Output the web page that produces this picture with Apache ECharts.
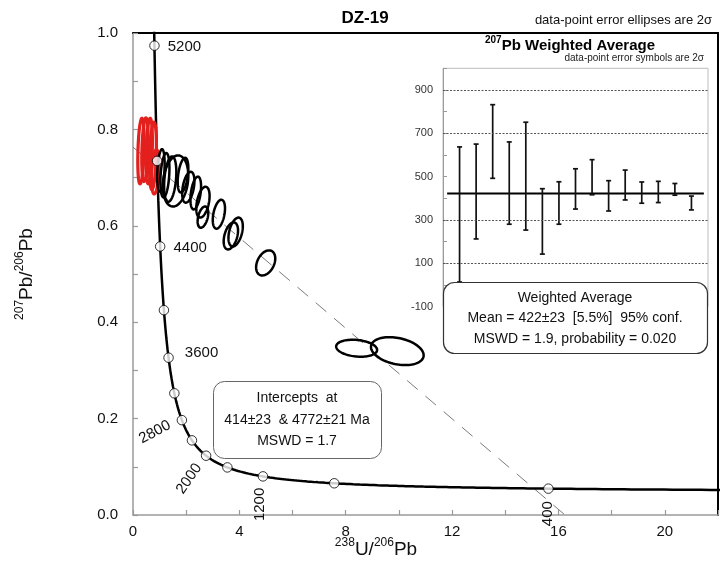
<!DOCTYPE html>
<html>
<head>
<meta charset="utf-8">
<script src="https://cdn.jsdelivr.net/npm/echarts@6/dist/echarts.min.js"></script>
<style>
  html, body { margin: 0; padding: 0; background: #fff; }
  #chart { width: 727px; height: 567px; }
</style>
</head>
<body>
<div id="chart"></div>
<script>
// Tera-Wasserburg concordia, sample DZ-19

// Decay constants (1/yr) and present-day 238U/235U
const LAMBDA_238 = 1.55125e-10;
const LAMBDA_235 = 9.8485e-10;
const U_RATIO = 137.88;

// Concordia age marks (Ma) and which of them carry a label
const markerAges = [400, 800, 1200, 1600, 2000, 2400, 2800, 3200, 3600, 4000, 4400, 4800, 5200];
const labelledAges = [400, 1200, 2000, 2800, 3600, 4400, 5200];

// Discordia intercept ages (Ma)
const interceptAges = [414, 4772];

// Error ellipses: [238U/206Pb, 207Pb/206Pb, half-width x, half-height y, rho]
const redEllipses = [
  [0.30, 0.755, 0.12, 0.068, 0.3],
  [0.45, 0.758, 0.12, 0.066, 0.3],
  [0.61, 0.755, 0.12, 0.068, 0.3],
  [0.75, 0.745, 0.13, 0.070, 0.3],
  [0.84, 0.712, 0.14, 0.046, 0.3]
];
const blackEllipses = [
  [1.05, 0.715, 0.14, 0.044, 0.3],
  [1.20, 0.705, 0.17, 0.046, 0.3],
  [1.40, 0.697, 0.23, 0.047, 0.3],
  [1.60, 0.693, 0.48, 0.053, 0.2],
  [1.88, 0.705, 0.20, 0.036, 0.4],
  [2.08, 0.680, 0.23, 0.032, 0.4],
  [2.36, 0.668, 0.20, 0.034, 0.4],
  [2.63, 0.649, 0.25, 0.032, 0.4],
  [2.63, 0.618, 0.20, 0.022, 0.4],
  [3.23, 0.624, 0.23, 0.030, 0.4],
  [3.68, 0.579, 0.27, 0.028, 0.4],
  [3.86, 0.587, 0.27, 0.030, 0.4],
  [4.99, 0.523, 0.36, 0.026, 0.35],
  [8.41, 0.346, 0.77, 0.0176, -0.2],
  [9.94, 0.340, 0.99, 0.029, -0.3]
];

// Main axes tick values
const xTicks = [0, 4, 8, 12, 16, 20];
const yTicks = [0.0, 0.2, 0.4, 0.6, 0.8, 1.0];

// 207Pb weighted-average inset: spot ages (Ma) and 2-sigma errors
const wmSpot = [1, 2, 3, 4, 5, 6, 7, 8, 9, 10, 11, 12, 13, 14, 15];
const wmAge = [325, 431, 662, 470, 502, 293, 378, 443, 497, 411, 461, 426, 429, 441, 378];
const wmErr = [312, 219, 170, 190, 249, 151, 98, 93, 81, 70, 69, 49, 49, 27, 32];
const wmMean = 422;
const insetTicks = [-100, 100, 300, 500, 700, 900];
const insetGrid = [900, 700, 300, 100];

// Concordia coordinates for an age in Ma
function concordia(ageMa) {
  const t = ageMa * 1e6;
  const e8 = Math.exp(LAMBDA_238 * t) - 1;
  const e5 = Math.exp(LAMBDA_235 * t) - 1;
  return [1 / e8, e5 / e8 / U_RATIO];
}

const curve = [];
for (let a = 260; a <= 5600; a += 5) curve.push(concordia(a));

const markers = markerAges.map(concordia);

// Discordia through both intercepts, extended to the axes
const p1 = concordia(interceptAges[0]);
const p2 = concordia(interceptAges[1]);
const slope = (p2[1] - p1[1]) / (p2[0] - p1[0]);
const y0 = p1[1] - slope * p1[0];
const discordia = [[0, y0], [-y0 / slope, 0]];

// Label placement (pixel offset from the mark, rotation in degrees)
const agePlacement = {
  5200: { dx: 30, dy: 1, rot: 0 },
  4400: { dx: 30, dy: 1, rot: 0 },
  3600: { dx: 33, dy: -5, rot: 0 },
  2800: { dx: -27, dy: 12, rot: 28 },
  2000: { dx: -17, dy: 23, rot: 55 },
  1200: { dx: -3, dy: 28, rot: 90 },
  400: { dx: -1, dy: 25, rot: 90 }
};

const FONT = '"Liberation Sans", Arial, sans-serif';

function ellipseRenderer(color, width) {
  return function (params, api) {
    const cx = api.value(0), cy = api.value(1);
    const sx = api.value(2), sy = api.value(3), rho = api.value(4);
    const k = Math.sqrt(1 - rho * rho);
    const pts = [];
    for (let i = 0; i < 90; i++) {
      const t = i / 90 * Math.PI * 2;
      const c = Math.cos(t), s = Math.sin(t);
      pts.push(api.coord([cx + sx * c, cy + sy * (rho * c + k * s)]));
    }
    return {
      type: 'polygon',
      shape: { points: pts },
      style: { fill: 'none', stroke: color, lineWidth: width }
    };
  };
}

const chart = echarts.init(document.getElementById('chart'), null, { renderer: 'canvas' });

const option = {
  animation: false,
  backgroundColor: '#fff',
  textStyle: { fontFamily: FONT },
  grid: [
    { left: 133, top: 33, right: 9, bottom: 52, show: false },
    { left: 443, top: 68.3, right: 19, bottom: 260.5, show: true, borderColor: '#bdbdbd', borderWidth: 1, backgroundColor: '#fff' }
  ],
  xAxis: [
    {
      gridIndex: 0, type: 'value', min: xTicks[0], max: 22, interval: xTicks[1] - xTicks[0],
      axisLine: { show: true, onZero: false, lineStyle: { color: '#9a9a9a', width: 1.5 } },
      axisTick: { show: true, inside: true, length: 5, lineStyle: { color: '#9a9a9a', width: 1.2 } },
      minorTick: { show: true, splitNumber: 2, length: 5, lineStyle: { color: '#9a9a9a', width: 1.2 } },
      axisLabel: { fontSize: 15, color: '#111', margin: 9, showMaxLabel: false, fontFamily: FONT },
      splitLine: { show: false }
    },
    {
      gridIndex: 0, type: 'value', position: 'top', min: 0, max: 22,
      axisLine: { show: true, onZero: false, lineStyle: { color: '#000', width: 2 } },
      axisTick: { show: false }, axisLabel: { show: false }, splitLine: { show: false }
    },
    {
      gridIndex: 1, type: 'value', min: 0, max: 16, show: false, splitLine: { show: false }
    }
  ],
  yAxis: [
    {
      gridIndex: 0, type: 'value', min: yTicks[0], max: yTicks[yTicks.length - 1], interval: yTicks[1] - yTicks[0],
      axisLine: { show: true, onZero: false, lineStyle: { color: '#9a9a9a', width: 1.5 } },
      axisTick: { show: true, inside: true, length: 5, lineStyle: { color: '#9a9a9a', width: 1.2 } },
      minorTick: { show: true, splitNumber: 2, length: 5, lineStyle: { color: '#9a9a9a', width: 1.2 } },
      axisLabel: { fontSize: 15, color: '#111', margin: 15, fontFamily: FONT, formatter: v => v.toFixed(1) },
      splitLine: { show: false }
    },
    {
      gridIndex: 0, type: 'value', position: 'right', min: 0, max: 1,
      axisLine: { show: true, onZero: false, lineStyle: { color: '#000', width: 2 } },
      axisTick: { show: false }, axisLabel: { show: false }, splitLine: { show: false }
    },
    {
      gridIndex: 1, type: 'value', min: insetTicks[0], max: 1000, interval: insetTicks[1] - insetTicks[0],
      axisLine: { show: true, onZero: false, lineStyle: { color: '#9a9a9a', width: 1 } },
      axisTick: { show: true, inside: true, length: 4, lineStyle: { color: '#9a9a9a' } },
      minorTick: { show: true, splitNumber: 2, length: 4, lineStyle: { color: '#9a9a9a' } },
      axisLabel: { fontSize: 11, color: '#333', margin: 10, showMaxLabel: false, fontFamily: FONT },
      splitLine: { show: false }
    }
  ],
  series: [
    {
      name: 'discordia', type: 'line', xAxisIndex: 0, yAxisIndex: 0,
      data: discordia, showSymbol: false, symbol: 'none', z: 2,
      lineStyle: { color: '#7a7a7a', width: 1, type: [14, 10] }
    },
    {
      name: 'concordia', type: 'line', xAxisIndex: 0, yAxisIndex: 0,
      data: curve, showSymbol: false, symbol: 'none', clip: true, z: 3,
      lineStyle: { color: '#000', width: 2.5 }
    },
    {
      name: 'red ellipses', type: 'custom', xAxisIndex: 0, yAxisIndex: 0,
      data: redEllipses, encode: { x: 0, y: 1 }, z: 4, clip: true,
      renderItem: ellipseRenderer('#e3201d', 3.2)
    },
    {
      name: 'ellipses', type: 'custom', xAxisIndex: 0, yAxisIndex: 0,
      data: blackEllipses, encode: { x: 0, y: 1 }, z: 5, clip: true,
      renderItem: ellipseRenderer('#000', 2.5)
    },
    {
      name: 'age marks', type: 'scatter', xAxisIndex: 0, yAxisIndex: 0,
      data: markers, symbol: 'circle', symbolSize: 9.5, z: 6,
      itemStyle: { color: '#fff', borderColor: '#000', borderWidth: 1 }
    },
    {
      name: 'age labels', type: 'custom', xAxisIndex: 0, yAxisIndex: 0, z: 7,
      data: labelledAges.map(a => { const p = concordia(a); return [p[0], p[1], a]; }),
      encode: { x: 0, y: 1 },
      renderItem: function (params, api) {
        const age = api.value(2);
        const pl = agePlacement[age];
        const pt = api.coord([api.value(0), api.value(1)]);
        return {
          type: 'text',
          x: pt[0] + pl.dx, y: pt[1] + pl.dy,
          rotation: pl.rot * Math.PI / 180,
          style: { text: String(age), fontSize: 15, fontFamily: FONT, fill: '#111', align: 'center', verticalAlign: 'middle' }
        };
      }
    },
    {
      name: 'mean', type: 'line', xAxisIndex: 2, yAxisIndex: 2, z: 3,
      data: [[0.25, wmMean], [15.75, wmMean]], showSymbol: false, symbol: 'none',
      lineStyle: { color: '#000', width: 2 },
      markLine: {
        silent: true, symbol: 'none', label: { show: false },
        lineStyle: { color: '#555', width: 1, type: [2, 1.5] },
        data: insetGrid.map(v => ({ yAxis: v }))
      }
    },
    {
      name: 'spot ages', type: 'custom', xAxisIndex: 2, yAxisIndex: 2, z: 4,
      data: wmSpot.map((s, i) => [s, wmAge[i], wmErr[i]]),
      encode: { x: 0, y: 1 },
      renderItem: function (params, api) {
        const x = api.value(0), c = api.value(1), e = api.value(2);
        const top = api.coord([x, c + e]);
        const bot = api.coord([x, c - e]);
        const st = { stroke: '#111', lineWidth: 1.7 };
        return {
          type: 'group',
          children: [
            { type: 'line', shape: { x1: top[0], y1: top[1], x2: bot[0], y2: bot[1] }, style: st },
            { type: 'line', shape: { x1: top[0] - 2.5, y1: top[1], x2: top[0] + 2.5, y2: top[1] }, style: st },
            { type: 'line', shape: { x1: bot[0] - 2.5, y1: bot[1], x2: bot[0] + 2.5, y2: bot[1] }, style: st }
          ]
        };
      }
    }
  ],
  graphic: [
    {
      type: 'text', z: 50, x: 365, y: 18,
      style: { text: 'DZ-19', fontSize: 17, fontWeight: 'bold', fontFamily: FONT, fill: '#000', align: 'center', verticalAlign: 'middle' }
    },
    {
      type: 'text', z: 50, x: 712, y: 20,
      style: { text: 'data-point error ellipses are 2σ', fontSize: 13, fontFamily: FONT, fill: '#111', align: 'right', verticalAlign: 'middle' }
    },
    {
      type: 'text', z: 50, x: 570, y: 44,
      style: {
        text: '{s|207}{b|Pb Weighted Average}', align: 'center', verticalAlign: 'middle',
        rich: {
          s: { fontSize: 10, fontWeight: 'bold', fontFamily: FONT, fill: '#000', lineHeight: 12, verticalAlign: 'top' },
          b: { fontSize: 15, fontWeight: 'bold', fontFamily: FONT, fill: '#000', lineHeight: 18, verticalAlign: 'bottom' }
        }
      }
    },
    {
      type: 'text', z: 50, x: 704, y: 58.5,
      style: { text: 'data-point error symbols are 2σ', fontSize: 10, fontFamily: FONT, fill: '#222', align: 'right', verticalAlign: 'middle' }
    },
    {
      type: 'text', z: 50, x: 25, y: 274, rotation: Math.PI / 2,
      style: {
        text: '{s|207}{b|Pb/}{s|206}{b|Pb}', align: 'center', verticalAlign: 'middle',
        rich: {
          s: { fontSize: 12, fontFamily: FONT, fill: '#111', lineHeight: 11, verticalAlign: 'top' },
          b: { fontSize: 19, fontFamily: FONT, fill: '#111', lineHeight: 22, verticalAlign: 'bottom' }
        }
      }
    },
    {
      type: 'text', z: 50, x: 376, y: 548,
      style: {
        text: '{s|238}{b|U/}{s|206}{b|Pb}', align: 'center', verticalAlign: 'middle',
        rich: {
          s: { fontSize: 12, fontFamily: FONT, fill: '#111', lineHeight: 11, verticalAlign: 'top' },
          b: { fontSize: 19, fontFamily: FONT, fill: '#111', lineHeight: 22, verticalAlign: 'bottom' }
        }
      }
    },
    {
      type: 'rect', z: 40,
      shape: { x: 213.5, y: 381.5, width: 168, height: 77, r: 11 },
      style: { fill: '#fff', stroke: '#666', lineWidth: 1 }
    },
    {
      type: 'text', z: 50, x: 297, y: 420,
      style: {
        text: 'Intercepts  at\n414±23  & 4772±21 Ma\nMSWD = 1.7',
        fontSize: 14, lineHeight: 21.5, fontFamily: FONT, fill: '#111', align: 'center', verticalAlign: 'middle'
      }
    },
    {
      type: 'rect', z: 40,
      shape: { x: 443.5, y: 282.5, width: 264, height: 71, r: 11 },
      style: { fill: '#fff', stroke: '#333', lineWidth: 1.2 }
    },
    {
      type: 'text', z: 50, x: 575, y: 318.5,
      style: {
        text: 'Weighted Average\nMean = 422±23  [5.5%]  95% conf.\nMSWD = 1.9, probability = 0.020',
        fontSize: 14, lineHeight: 20.5, fontFamily: FONT, fill: '#111', align: 'center', verticalAlign: 'middle'
      }
    }
  ]
};

chart.setOption(option);
</script>
</body>
</html>
